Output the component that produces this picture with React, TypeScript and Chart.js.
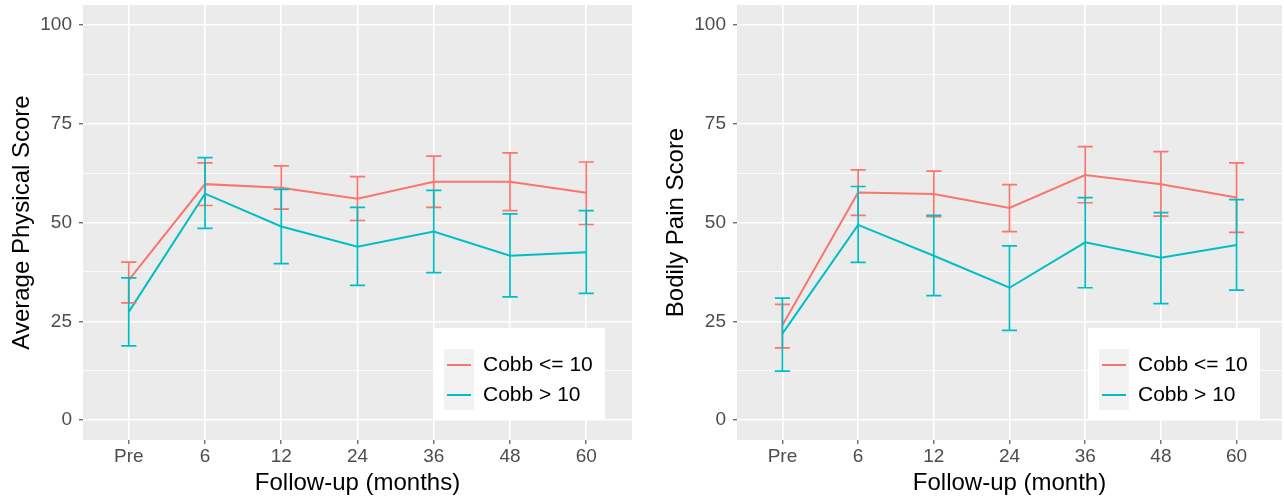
import React, { useEffect, useRef } from "react";
import { Chart, registerables } from "chart.js";

Chart.register(...registerables);

// ---------- data ----------
const categories = ["Pre", "6", "12", "24", "36", "48", "60"];
const yMajorTicks = [0, 25, 50, 75, 100];
const yAllTicks = [0, 12.5, 25, 37.5, 50, 62.5, 75, 87.5, 100];
const seriesNames = ["Cobb <= 10", "Cobb > 10"];
const seriesColors = ["#F8766D", "#00BFC4"];

// Average Physical Score
const physLowMean = [35.4, 59.7, 58.8, 56.0, 60.3, 60.3, 57.5];
const physLowUpper = [40.0, 65.1, 64.3, 61.6, 66.8, 67.6, 65.3];
const physLowLower = [29.7, 54.3, 53.4, 50.5, 53.8, 53.0, 49.5];
const physHighMean = [27.4, 57.3, 49.0, 43.9, 47.7, 41.6, 42.5];
const physHighUpper = [36.0, 66.4, 58.4, 53.8, 58.1, 52.2, 53.0];
const physHighLower = [18.8, 48.5, 39.6, 34.1, 37.3, 31.2, 32.1];

// Bodily Pain Score
const painLowMean = [24.0, 57.6, 57.2, 53.7, 62.0, 59.7, 56.3];
const painLowUpper = [29.3, 63.3, 63.0, 59.6, 69.2, 67.9, 65.1];
const painLowLower = [18.3, 51.8, 51.5, 47.7, 55.0, 51.6, 47.5];
const painHighMean = [21.9, 49.4, 41.6, 33.5, 45.0, 41.1, 44.3];
const painHighUpper = [30.9, 59.1, 51.8, 44.1, 56.3, 52.5, 55.8];
const painHighLower = [12.4, 39.9, 31.5, 22.7, 33.5, 29.5, 32.9];

const FONT = "'Liberation Sans', Arial, Helvetica, sans-serif";

type Series = { mean: number[]; upper: number[]; lower: number[] };

type PanelProps = {
  width: number;
  plotLeft: number;
  plotRightPad: number;
  yTitle: string;
  xTitle: string;
  yTitlePad: number;
  legendRight: number;
  series: Series[];
};

function Panel(props: PanelProps) {
  const ref = useRef<HTMLCanvasElement | null>(null);

  useEffect(() => {
    const canvas = ref.current;
    if (!canvas) return;
    const { series } = props;

    const bgPlugin = {
      id: "panelBg",
      beforeDraw(chart: any) {
        const { ctx, chartArea: a } = chart;
        ctx.save();
        ctx.fillStyle = "#EBEBEB";
        ctx.fillRect(a.left, a.top, a.right - a.left, a.bottom - a.top);
        ctx.restore();
      },
    };

    const errPlugin = {
      id: "errBars",
      afterDatasetsDraw(chart: any) {
        const xs = chart.scales.x;
        const ys = chart.scales.y;
        const ctx = chart.ctx;
        series.forEach((s, si) => {
          ctx.save();
          ctx.strokeStyle = seriesColors[si];
          ctx.lineWidth = 1.7;
          s.upper.forEach((u, i) => {
            const cx = xs.getPixelForValue(i);
            const hw = xs.getPixelForValue(i + 0.1) - cx;
            const yu = ys.getPixelForValue(u);
            const yl = ys.getPixelForValue(s.lower[i]);
            ctx.beginPath();
            ctx.moveTo(cx, yu);
            ctx.lineTo(cx, yl);
            ctx.moveTo(cx - hw, yu);
            ctx.lineTo(cx + hw, yu);
            ctx.moveTo(cx - hw, yl);
            ctx.lineTo(cx + hw, yl);
            ctx.stroke();
          });
          ctx.restore();
        });
      },
    };

    const legendPlugin = {
      id: "insideLegend",
      afterDraw(chart: any) {
        const { ctx, chartArea: a } = chart;
        const w = 172;
        const h = 91;
        const bx = a.right - props.legendRight - w;
        const by = a.bottom - 21 - h;
        ctx.save();
        ctx.fillStyle = "#FFFFFF";
        ctx.fillRect(bx, by, w, h);
        ctx.fillStyle = "#F2F2F2";
        ctx.fillRect(bx + 11, by + 21, 30, 61);
        const rows = [by + 37, by + 67];
        seriesNames.forEach((name, i) => {
          ctx.strokeStyle = seriesColors[i];
          ctx.lineWidth = 2;
          ctx.beginPath();
          ctx.moveTo(bx + 14, rows[i]);
          ctx.lineTo(bx + 38, rows[i]);
          ctx.stroke();
          ctx.fillStyle = "#000000";
          ctx.font = `21px ${FONT}`;
          ctx.textBaseline = "middle";
          ctx.textAlign = "left";
          ctx.fillText(name, bx + 50, rows[i]);
        });
        ctx.restore();
      },
    };

    const chart = new Chart(canvas, {
      type: "line",
      data: {
        datasets: series.map((s, si) => ({
          label: seriesNames[si],
          data: s.mean.map((v, i) => ({ x: i, y: v })),
          borderColor: seriesColors[si],
          backgroundColor: seriesColors[si],
          borderWidth: 2,
          pointRadius: 0,
          tension: 0,
          fill: false,
        })),
      },
      options: {
        responsive: false,
        animation: false,
        devicePixelRatio: 1,
        layout: { padding: { left: 0, right: props.plotRightPad, top: 5, bottom: 0 } },
        plugins: {
          legend: { display: false },
          tooltip: { enabled: false },
        },
        scales: {
          x: {
            type: "linear",
            min: -0.6,
            max: 6.6,
            bounds: "data",
            afterBuildTicks: (s: any) => {
              s.ticks = categories.map((_, i) => ({ value: i }));
            },
            afterFit: (s: any) => {
              s.height = 58;
              s.paddingLeft = 0;
              s.paddingRight = 0;
            },
            ticks: {
              autoSkip: false,
              maxRotation: 0,
              padding: 1,
              color: "#4D4D4D",
              font: { family: FONT, size: 19 },
              callback: (v: any) => categories[Math.round(Number(v))] ?? "",
            },
            grid: {
              color: "#FFFFFF",
              lineWidth: 1.6,
              tickColor: "#333333",
              tickLength: 4,
              tickWidth: 1,
            },
            border: { display: false },
            title: {
              display: true,
              text: props.xTitle,
              color: "#000000",
              font: { family: FONT, size: 24 },
              padding: { top: 0, bottom: 0 },
            },
          },
          y: {
            type: "linear",
            min: -5,
            max: 105,
            bounds: "data",
            afterBuildTicks: (s: any) => {
              s.ticks = yAllTicks.map((v) => ({ value: v }));
            },
            afterFit: (s: any) => {
              s.width = props.plotLeft;
              s.paddingTop = 0;
              s.paddingBottom = 0;
            },
            ticks: {
              padding: 7,
              color: "#4D4D4D",
              font: { family: FONT, size: 19 },
              callback: (v: any) => (yMajorTicks.includes(Number(v)) ? String(v) : ""),
            },
            grid: {
              color: "#FFFFFF",
              lineWidth: (c: any) => (c.tick && yMajorTicks.includes(c.tick.value) ? 1.6 : 0.8),
              tickColor: (c: any) =>
                c.tick && yMajorTicks.includes(c.tick.value) ? "#333333" : "rgba(0,0,0,0)",
              tickLength: 4,
              tickWidth: 1,
            },
            border: { display: false },
            title: {
              display: true,
              text: props.yTitle,
              color: "#000000",
              font: { family: FONT, size: 24 },
              padding: { top: props.yTitlePad, bottom: 0 },
            },
          },
        },
      },
      plugins: [bgPlugin, errPlugin, legendPlugin],
    } as any);

    return () => {
      chart.destroy();
    };
  }, []);

  return <canvas ref={ref} width={props.width} height={498} style={{ display: "block" }} />;
}

export default function App() {
  const physical: Series[] = [
    { mean: physLowMean, upper: physLowUpper, lower: physLowLower },
    { mean: physHighMean, upper: physHighUpper, lower: physHighLower },
  ];
  const pain: Series[] = [
    { mean: painLowMean, upper: painLowUpper, lower: painLowLower },
    { mean: painHighMean, upper: painHighUpper, lower: painHighLower },
  ];
  return (
    <div
      style={{
        position: "absolute",
        left: 0,
        top: 0,
        width: 1284,
        height: 498,
        background: "#FFFFFF",
        display: "flex",
      }}
    >
      <Panel
        width={640}
        plotLeft={83}
        plotRightPad={8}
        yTitle="Average Physical Score"
        xTitle="Follow-up (months)"
        yTitlePad={8}
        legendRight={27}
        series={physical}
      />
      <Panel
        width={644}
        plotLeft={97}
        plotRightPad={2}
        yTitle="Bodily Pain Score"
        xTitle="Follow-up (month)"
        yTitlePad={22}
        legendRight={22}
        series={pain}
      />
    </div>
  );
}
